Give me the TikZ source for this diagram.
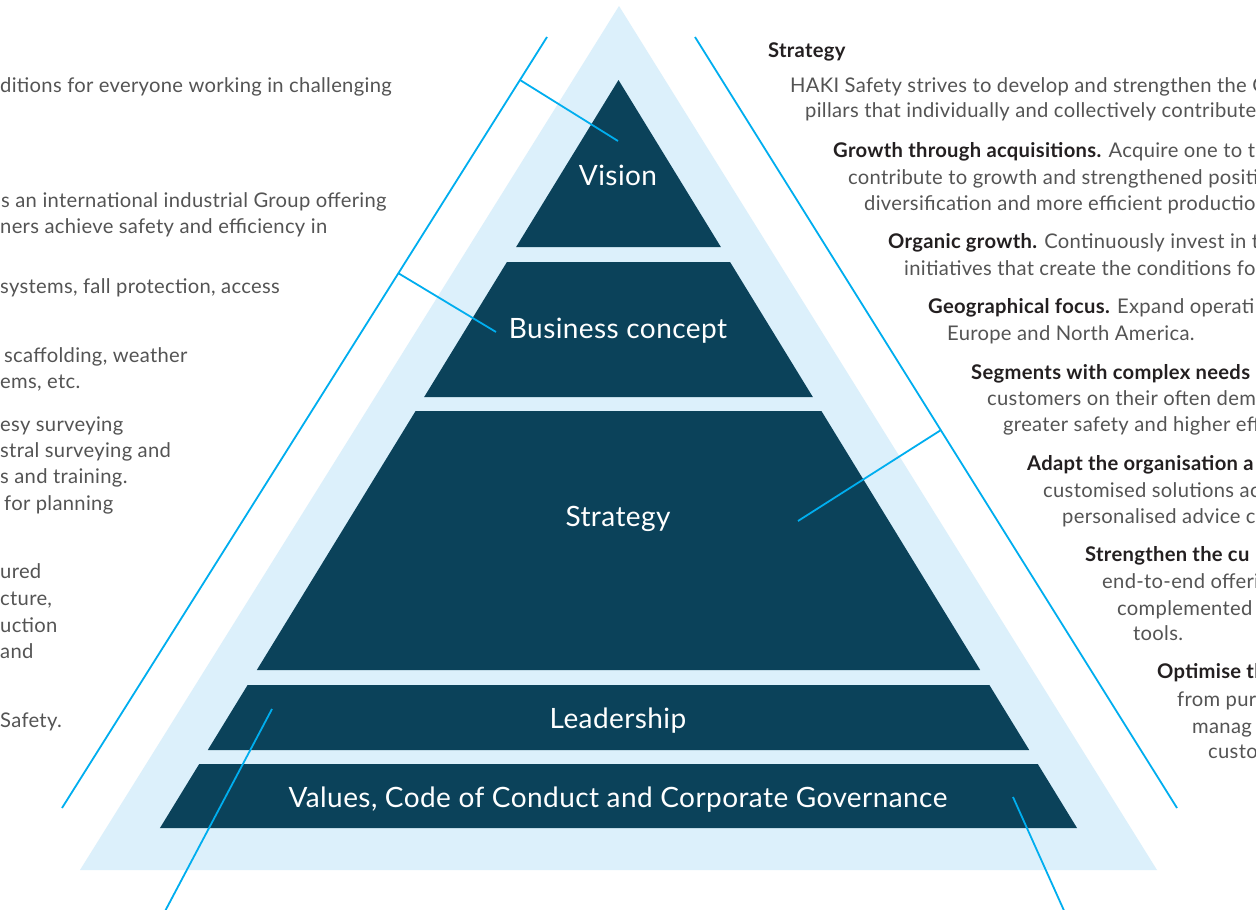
\documentclass[tikz,border=0pt]{standalone}
\usepackage{fontspec}
\setmainfont{Lato}[LetterSpace=1.5]
\usepackage{tikz}
\usetikzlibrary{calc}

\definecolor{navy}{HTML}{0B425A}
\definecolor{pale}{HTML}{DCF0FB}
\definecolor{rail}{HTML}{00AEEF}
\definecolor{greytext}{HTML}{545454}
\definecolor{darktext}{HTML}{231F20}

% one slice of the pyramid between heights #1 and #2
\def\tier(#1:#2){\fill[navy] ({618.5-0.613*(#1-80)},#1) -- ({618.5+0.613*(#1-80)},#1) -- ({618.5+0.613*(#2-80)},#2) -- ({618.5-0.613*(#2-80)},#2) -- cycle;}
\newcommand\hlead[1]{\textcolor{darktext}{\bfseries #1}}

\tikzset{
	tierlabel/.style={text=white, font=\fontsize{28}{32}\selectfont, inner sep=0pt},
	callout/.style={draw=rail, line width=1.8pt},
	leftline/.style={anchor=base west, text=greytext, font=\fontsize{20.2}{24}\selectfont, inner sep=0pt},
	rightline/.style={leftline},
}

\begin{document}
\begin{tikzpicture}[x=1pt, y=-1pt]
			%%%%% START %%%%%
			\clip (0,0) rectangle (1256,910);
			\fill[white] (0,0) rectangle (1256,910);
			
			% pale backdrop
			\fill[pale] (619,6) -- (1157,870) -- (80,870) -- cycle;
			
			% the five slices
			\tier(80:247)
			\tier(262:397)
			\tier(411:670)
			\tier(685:750)
			\tier(764:828)
			
			\node[tierlabel] (vision) at (618,175) {Vision};
			\node[tierlabel] (business) at (618,331) {Business concept};
			\node[tierlabel] (strategy) at (618,519) {Strategy};
			\node[tierlabel] (leadership) at (618,721) {Leadership};
			\node[tierlabel] (values) at (618,800) {Values, Code of Conduct and Corporate Governance};
			
			% rails and callouts
			\coordinate (lrailtop) at (547,37);
			\coordinate (lrailbot) at (62,808);
			\coordinate (rrailtop) at (695,37);
			\coordinate (rrailbot) at (1177,808);
			\draw[callout] (lrailtop) -- (lrailbot);
			\draw[callout] (rrailtop) -- (rrailbot);
			
			\coordinate (visionpin) at (618,141);
			\coordinate (visionrail) at (520,80);
			\coordinate (businesspin) at (496,332);
			\coordinate (businessrail) at (398,273);
			\coordinate (strategypin) at (798,521);
			\coordinate (strategyrail) at (941,430);
			\coordinate (leadershippin) at (272,709);
			\coordinate (leadershipout) at (163,915);
			\coordinate (valuespin) at (1013,797);
			\coordinate (valuesout) at (1066,915);
			\draw[callout] (visionrail) -- (visionpin);
			\draw[callout] (businessrail) -- (businesspin);
			\draw[callout] (strategyrail) -- (strategypin);
			\draw[callout] (leadershippin) -- (leadershipout);
			\draw[callout] (valuespin) -- (valuesout);
			
			% left column
			\node[leftline] (l1) at (0,92) {ditions for everyone working in challenging};
			\node[leftline] (l2) at (1,207) {s an international industrial Group offering};
			\node[leftline] (l3) at (0,233) {ners achieve safety and efficiency in};
			\node[leftline] (l4) at (0,293) {systems, fall protection, access};
			\node[leftline] (l5) at (4,362) {scaffolding, weather};
			\node[leftline] (l6) at (0,388) {ems, etc.};
			\node[leftline] (l7) at (0,431) {esy surveying};
			\node[leftline] (l8) at (0,457) {stral surveying and};
			\node[leftline] (l9) at (0,483) {s and training.};
			\node[leftline] (l10) at (4,510) {for planning};
			\node[leftline] (l11) at (0,578) {ured};
			\node[leftline] (l12) at (0,605) {cture,};
			\node[leftline] (l13) at (0,632) {uction};
			\node[leftline] (l14) at (0,658) {and};
			\node[leftline] (l15) at (0,727) {Safety.};
			
			% right column
			\node[rightline] (r0) at (768,57) {\hlead{Strategy}};
			\node[rightline] (r1) at (790,92) {HAKI Safety strives to develop and strengthen the G};
			\node[rightline] (r2) at (805,117) {pillars that individually and collectively contribute};
			\node[rightline] (r3) at (833,157) {\hlead{Growth through acquisitions.} Acquire one to t};
			\node[rightline] (r4) at (848,184) {contribute to growth and strengthened positi};
			\node[rightline] (r5) at (864,210) {diversification and more efficient productio};
			\node[rightline] (r6) at (888,248) {\hlead{Organic growth.} Continuously invest in th};
			\node[rightline] (r7) at (904,275) {initiatives that create the conditions for};
			\node[rightline] (r8) at (928,313) {\hlead{Geographical focus.} Expand operati};
			\node[rightline] (r9) at (947,340) {Europe and North America.};
			\node[rightline] (r10) at (971,379) {\hlead{Segments with complex needs}};
			\node[rightline] (r11) at (987,405) {customers on their often dem};
			\node[rightline] (r12) at (1003,431) {greater safety and higher eff};
			\node[rightline] (r13) at (1027,470) {\hlead{Adapt the organisation a}};
			\node[rightline] (r14) at (1043,497) {customised solutions ac};
			\node[rightline] (r15) at (1062,523) {personalised advice c};
			\node[rightline] (r16) at (1085,561) {\hlead{Strengthen the cu}};
			\node[rightline] (r17) at (1102,588) {end-to-end offeri};
			\node[rightline] (r18) at (1117,615) {complemented};
			\node[rightline] (r19) at (1133,640) {tools.};
			\node[rightline] (r20) at (1157,678) {\hlead{Optimise th}};
			\node[rightline] (r21) at (1177,706) {from purc};
			\node[rightline] (r22) at (1192,733) {manag};
			\node[rightline] (r23) at (1208,758) {custo};
			
			%%%%% END %%%%%
\end{tikzpicture}
\end{document}
